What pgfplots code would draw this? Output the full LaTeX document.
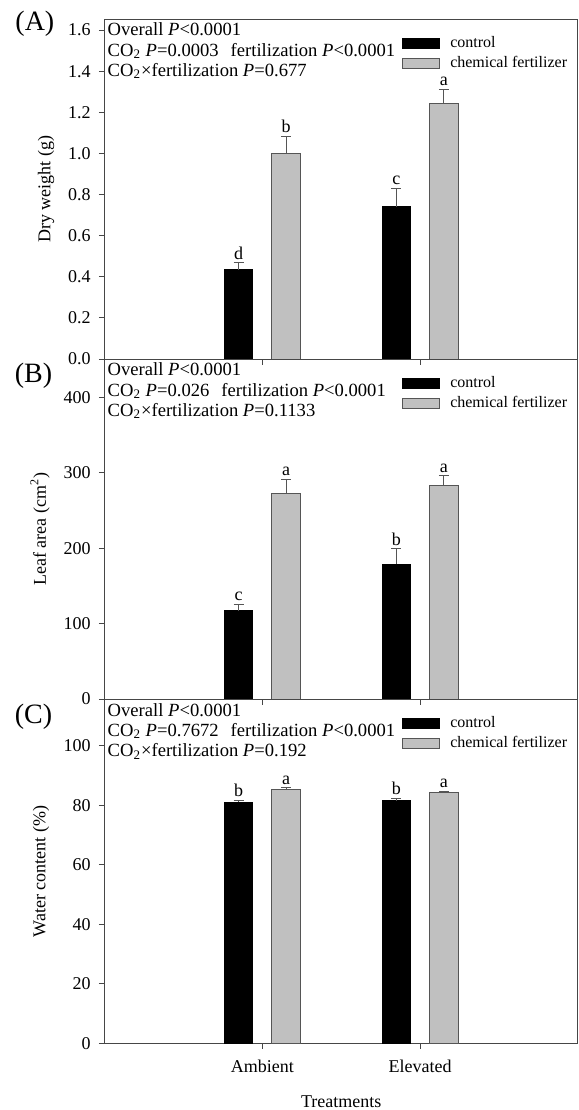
\documentclass[border=0pt]{standalone}
\usepackage{fontspec}
\setmainfont{Liberation Serif}
\usepackage{pgfplots}
\usepackage{pgfplotstable}
\pgfplotsset{compat=1.18}

\definecolor{fertgray}{RGB}{192,192,192}
\definecolor{edgegray}{RGB}{85,85,85}
\definecolor{axisgray}{RGB}{70,70,70}

% Panel A: dry weight (g)
\pgfplotstableread{
x y e lab
0.85 0.433 0.035 d
1.85 0.741 0.089 c
}\Actrl
\pgfplotstableread{
x y e lab
1.15 1.000 0.084 b
2.15 1.243 0.070 a
}\Afert
% Panel B: leaf area (cm2)
\pgfplotstableread{
x y e lab
0.85 117 8.5 c
1.85 179 20 b
}\Bctrl
\pgfplotstableread{
x y e lab
1.15 273 18 a
2.15 283 13 a
}\Bfert
% Panel C: water content (%)
\pgfplotstableread{
x y e lab
0.85 81.1 0.6 b
1.85 81.6 0.8 b
}\Cctrl
\pgfplotstableread{
x y e lab
1.15 85.5 0.5 a
2.15 84.4 0.4 a
}\Cfert

\pgfplotsset{
 panel/.style={
  scale only axis, width=236.75pt, clip=false,
  xmin=0, xmax=3, ymin=0,
  axis line style={axisgray, line width=0.5pt},
  tick style={axisgray, line width=0.5pt},
  major tick length=2.75pt,
  tick align=outside, xtick pos=bottom, ytick pos=left,
  xtick={1,2},
  ticklabel style={font=\fontsize{9}{10}\selectfont},
  yticklabel style={xshift=-0.6pt},
  /pgf/number format/assume math mode=true,
  label style={font=\fontsize{9}{10}\selectfont},
  legend style={draw=none, fill=none, font=\fontsize{8}{9}\selectfont,
    at={(axis description cs:0.628,0.962)}, anchor=north west,
    inner sep=0pt, row sep=-1.2pt},
  legend cell align=left,
 },
 ctrlbar/.style={ybar, bar width=0.18, bar shift=0pt, fill=black, draw=black, line width=0.5pt,
   legend image code/.code={\draw[fill=black,draw=black,line width=0.5pt] (0pt,-2.5pt) rectangle (18.5pt,2.5pt);\path (21.5pt,0pt);},
   error bars/.cd, y dir=plus, y explicit,
   error bar style={edgegray, line width=0.5pt},
   error mark options={rotate=90, mark size=2.5pt, edgegray, line width=0.5pt}},
 fertbar/.style={ybar, bar width=0.18, bar shift=0pt, fill=fertgray, draw=edgegray, line width=0.5pt,
   legend image code/.code={\draw[fill=fertgray,draw=edgegray,line width=0.5pt] (0pt,-2.5pt) rectangle (18.5pt,2.5pt);\path (21.5pt,0pt);},
   error bars/.cd, y dir=plus, y explicit,
   error bar style={edgegray, line width=0.5pt},
   error mark options={rotate=90, mark size=2.5pt, edgegray, line width=0.5pt}},
 letters/.style={forget plot, draw=none, mark=none, nodes near coords, point meta=explicit symbolic,
   nodes near coords style={anchor=south, inner sep=1.5pt, font=\fontsize{9}{10}\selectfont, text=black}},
}

\newcommand{\anno}[2]{\node[anchor=north west, align=left, inner sep=0pt,
  font=\fontsize{9.3}{10.2}\selectfont] at (axis description cs:0.006,0.99) {Overall \textit{P}<0.0001\\#1\\#2};}

\begin{document}
\begin{tikzpicture}
\useasboundingbox (0pt,0pt) rectangle (289.5pt,-555pt);

% ---------- (A) ----------
\begin{axis}[panel, at={(52.25pt,-179.5pt)}, anchor=south west, height=170pt,
  ymax=1.654, ytick={0,0.2,0.4,0.6,0.8,1.0,1.2,1.4,1.6},
  yticklabel style={/pgf/number format/.cd, fixed, fixed zerofill, precision=1},
  xticklabels={},
  ylabel={Dry weight (g)},
  ylabel style={at={(axis description cs:-0.1235,0.5)}, anchor=center}]
\addplot[ctrlbar] table[x=x, y=y, y error=e]{\Actrl};
\addlegendentry{control}
\addplot[fertbar] table[x=x, y=y, y error=e]{\Afert};
\addlegendentry{chemical fertilizer}
\addplot[letters] table[x=x, y expr=\thisrow{y}+\thisrow{e}, meta=lab]{\Actrl};
\addplot[letters] table[x=x, y expr=\thisrow{y}+\thisrow{e}, meta=lab]{\Afert};
\anno{CO\textsubscript{2} \textit{P}=0.0003\hspace{6pt}fertilization \textit{P}<0.0001}{CO\textsubscript{2}×fertilization \textit{P}=0.677}
\node[font=\fontsize{14}{15}\selectfont] at (axis description cs:-0.147,0.985) {(A)};
\end{axis}

% ---------- (B) ----------
\begin{axis}[panel, at={(52.25pt,-349.5pt)}, anchor=south west, height=170pt,
  ymax=450.8, ytick={0,100,200,300,400},
  xticklabels={},
  ylabel={Leaf area (cm\textsuperscript{2})},
  ylabel style={at={(axis description cs:-0.136,0.5)}, anchor=center}]
\addplot[ctrlbar] table[x=x, y=y, y error=e]{\Bctrl};
\addlegendentry{control}
\addplot[fertbar] table[x=x, y=y, y error=e]{\Bfert};
\addlegendentry{chemical fertilizer}
\addplot[letters] table[x=x, y expr=\thisrow{y}+\thisrow{e}, meta=lab]{\Bctrl};
\addplot[letters] table[x=x, y expr=\thisrow{y}+\thisrow{e}, meta=lab]{\Bfert};
\anno{CO\textsubscript{2} \textit{P}=0.026\hspace{6pt}fertilization \textit{P}<0.0001}{CO\textsubscript{2}×fertilization \textit{P}=0.1133}
\node[font=\fontsize{14}{15}\selectfont] at (axis description cs:-0.150,0.950) {(B)};
\end{axis}

% ---------- (C) ----------
\begin{axis}[panel, at={(52.25pt,-521.65pt)}, anchor=south west, height=172pt,
  ymax=115.7, ytick={0,20,40,60,80,100},
  xticklabels={Ambient,Elevated},
  xticklabel style={yshift=-2.2pt},
  xlabel={Treatments},
  xlabel style={at={(axis description cs:0.5,0)}, anchor=center, yshift=-29pt},
  ylabel={Water content (\%)},
  ylabel style={at={(axis description cs:-0.134,0.5)}, anchor=center}]
\addplot[ctrlbar] table[x=x, y=y, y error=e]{\Cctrl};
\addlegendentry{control}
\addplot[fertbar] table[x=x, y=y, y error=e]{\Cfert};
\addlegendentry{chemical fertilizer}
\addplot[letters] table[x=x, y expr=\thisrow{y}+\thisrow{e}, meta=lab]{\Cctrl};
\addplot[letters] table[x=x, y expr=\thisrow{y}+\thisrow{e}, meta=lab]{\Cfert};
\anno{CO\textsubscript{2} \textit{P}=0.7672\hspace{6pt}fertilization \textit{P}<0.0001}{CO\textsubscript{2}×fertilization \textit{P}=0.192}
\node[font=\fontsize{14}{15}\selectfont] at (axis description cs:-0.150,0.950) {(C)};
\end{axis}
\end{tikzpicture}
\end{document}
